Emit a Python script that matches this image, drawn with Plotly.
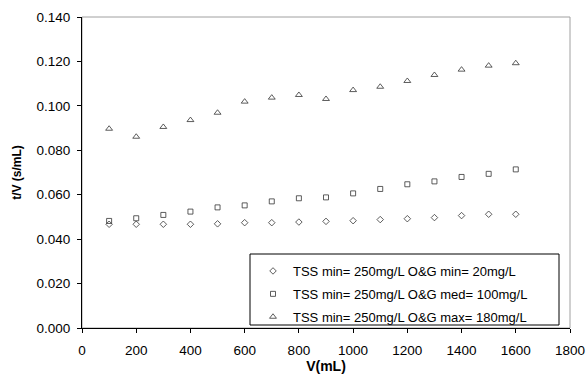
import plotly.graph_objects as go

V = [100, 200, 300, 400, 500, 600, 700, 800, 900, 1000, 1100, 1200, 1300, 1400, 1500, 1600]
og_min = [0.0467, 0.0467, 0.0467, 0.0467, 0.0469, 0.0474, 0.0474, 0.0477, 0.0480,
          0.0483, 0.0488, 0.0492, 0.0497, 0.0506, 0.0512, 0.0512]
og_med = [0.0482, 0.0494, 0.0509, 0.0524, 0.0543, 0.0552, 0.0570, 0.0584, 0.0588,
          0.0606, 0.0626, 0.0647, 0.0660, 0.0680, 0.0694, 0.0714]
og_max = [0.0897, 0.0861, 0.0905, 0.0936, 0.0969, 0.1019, 0.1037, 0.1049, 0.1031,
          0.1071, 0.1086, 0.1112, 0.1139, 0.1163, 0.1181, 0.1192]
names = ["TSS min= 250mg/L O&G min= 20mg/L",
         "TSS min= 250mg/L O&G med= 100mg/L",
         "TSS min= 250mg/L O&G max= 180mg/L"]
symbols = ["diamond-open", "square-open", "triangle-up-open"]
sizes = [5, 5, 6]

FONT = "Liberation Sans, Arial, sans-serif"
fig = go.Figure()
for i, (ys, nm, sym, sz) in enumerate(zip([og_min, og_med, og_max], names, symbols, sizes)):
    fig.add_trace(go.Scatter(x=V, y=ys, mode="markers", name=nm, legendgroup=f"g{i}",
                             marker=dict(symbol=sym, size=sz, color="#333333",
                                         line=dict(width=0.8, color="#333333"))))

# legend box: x 250..559, y 254..325 in pixels -> paper coords
pw, ph = 586 - 82 - 16, 377 - 17 - 49
bx0, bx1 = (250 - 82) / pw, (559 - 82) / pw
by1, by0 = (328 - 254) / ph, (328 - 325) / ph

fig.update_layout(
    width=586, height=377,
    margin=dict(l=82, r=16, t=17, b=49, autoexpand=False),
    paper_bgcolor="white", plot_bgcolor="white",
    font=dict(family=FONT, size=12, color="black"),
    showlegend=True,
    legend=dict(x=(253 - 82) / pw, xanchor="left", y=(328 - 256) / ph, yanchor="top",
                bgcolor="rgba(0,0,0,0)", borderwidth=0,
                font=dict(size=13), itemwidth=30, traceorder="grouped",
                tracegroupgap=3),
    shapes=[dict(type="rect", xref="paper", yref="paper", x0=0, x1=1, y0=0, y1=1,
                 line=dict(color="#a0a0a0", width=1), layer="below"),
            dict(type="rect", xref="paper", yref="paper", x0=bx0, x1=bx1, y0=by0, y1=by1,
                 line=dict(color="black", width=1), fillcolor="white", layer="above")],
)
fig.update_xaxes(range=[0, 1800], dtick=200, tick0=0, showgrid=False, zeroline=False,
                 showline=True, linecolor="black", linewidth=1, automargin=False,
                 ticks="outside", ticklen=4, tickcolor="black",
                 tickfont=dict(size=13.5), ticklabelstandoff=6,
                 title=dict(text="<b>V(mL)</b>", font=dict(size=14), standoff=2))
fig.update_yaxes(range=[0, 0.14], dtick=0.02, tick0=0, tickformat=".3f",
                 showgrid=False, zeroline=False, automargin=False,
                 showline=True, linecolor="black", linewidth=1,
                 ticks="outside", ticklen=4, tickcolor="black",
                 tickfont=dict(size=13.5), ticklabelstandoff=4,
                 title=dict(text="<b>t/V (s/mL)</b>", font=dict(size=12), standoff=12))

fig.write_html("out.html")
